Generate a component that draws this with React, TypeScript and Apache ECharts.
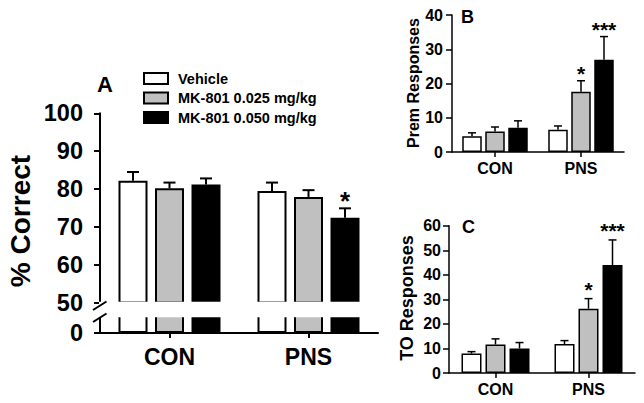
import React, { useEffect, useRef } from "react";
import * as echarts from "echarts";

const FONT = '"Liberation Sans", Arial, Helvetica, sans-serif';

const categories = ["CON", "PNS"];
const groupNames = ["Vehicle", "MK-801 0.025 mg/kg", "MK-801 0.050 mg/kg"];
const groupColors = ["#ffffff", "#c0c0c0", "#000000"];

// Panel A: % Correct
const correctVehicle = [82.2, 79.5];
const correctLow = [80.2, 77.9];
const correctHigh = [81.2, 72.4];
const correctVehicleSem = [2.3, 2.2];
const correctLowSem = [1.5, 1.8];
const correctHighSem = [1.6, 2.5];
const correctStars = [["", ""], ["", ""], ["", "*"]];

// Panel B: Prem Responses
const premVehicle = [4.6, 6.5];
const premLow = [6.0, 17.6];
const premHigh = [7.1, 26.9];
const premVehicleSem = [1.0, 1.1];
const premLowSem = [1.3, 3.2];
const premHighSem = [2.0, 6.8];
const premStars = [["", ""], ["", "*"], ["", "***"]];

// Panel C: TO Responses
const toVehicle = [7.9, 11.8];
const toLow = [11.6, 26.2];
const toHigh = [10.0, 44.0];
const toVehicleSem = [0.8, 1.4];
const toLowSem = [2.3, 4.1];
const toHighSem = [2.4, 10.2];
const toStars = [["", ""], ["", "*"], ["", "***"]];

function barSeries(name: string, data: number[], color: string, xi: number, yi: number, w: number, gapPx: number, lw: number) {
  return {
    type: "bar",
    name,
    data,
    xAxisIndex: xi,
    yAxisIndex: yi,
    barWidth: w,
    barGap: (gapPx / w) * 100 + "%",
    itemStyle: { color, borderColor: "#000", borderWidth: lw },
    emphasis: { disabled: true },
    silent: true,
    z: 2,
  };
}

function errSeries(
  xi: number,
  yi: number,
  means: number[][],
  sems: number[][],
  stars: string[][],
  w: number,
  gapPx: number,
  lw: number,
  capW: number,
  starSize: number,
  starLift: number
) {
  const data: number[][] = [];
  const starList: string[] = [];
  for (let s = 0; s < means.length; s++) {
    for (let c = 0; c < categories.length; c++) {
      data.push([c, means[s][c], means[s][c] + sems[s][c], s]);
      starList.push(stars[s][c]);
    }
  }
  return {
    type: "custom",
    xAxisIndex: xi,
    yAxisIndex: yi,
    data,
    z: 5,
    silent: true,
    clip: false,
    encode: { x: 0, y: 2 },
    renderItem: (params: any, api: any) => {
      const c = api.value(0);
      const m = api.value(1);
      const t = api.value(2);
      const s = api.value(3);
      const p0 = api.coord([c, m]);
      const p1 = api.coord([c, t]);
      const x = p0[0] + (s - 1) * (w + gapPx);
      const children: any[] = [
        { type: "line", shape: { x1: x, y1: p0[1], x2: x, y2: p1[1] }, style: { stroke: "#000", lineWidth: lw } },
        { type: "line", shape: { x1: x - capW / 2, y1: p1[1], x2: x + capW / 2, y2: p1[1] }, style: { stroke: "#000", lineWidth: lw } },
      ];
      const st = starList[params.dataIndex];
      if (st) {
        children.push({
          type: "text",
          x,
          y: p1[1] - starLift,
          style: { text: st, fill: "#000", font: `bold ${starSize}px ${FONT}`, align: "center", verticalAlign: "bottom" },
        });
      }
      return { type: "group", children };
    },
  };
}

function catAxis(gridIndex: number, show: boolean, fontSize: number, lw: number, margin: number) {
  return {
    type: "category",
    gridIndex,
    data: categories,
    show,
    axisLine: { show: true, onZero: false, lineStyle: { color: "#000", width: lw } },
    axisTick: { show: true, alignWithLabel: true, length: 5, lineStyle: { color: "#000", width: lw } },
    axisLabel: { color: "#000", fontFamily: FONT, fontWeight: "bold", fontSize, margin },
  };
}

function valAxis(gridIndex: number, min: number, max: number, interval: number, fontSize: number, lw: number, margin: number, extra: any = {}) {
  return {
    type: "value",
    gridIndex,
    min,
    max,
    interval,
    splitLine: { show: false },
    axisLine: { show: true, lineStyle: { color: "#000", width: lw } },
    axisTick: { show: true, length: 6, lineStyle: { color: "#000", width: lw }, ...(extra.tick || {}) },
    axisLabel: { color: "#000", fontFamily: FONT, fontWeight: "bold", fontSize, margin, ...(extra.label || {}) },
  };
}

export default function App() {
  const ref = useRef<HTMLDivElement>(null);
  useEffect(() => {
    if (!ref.current) return;
    const chart = echarts.init(ref.current, undefined, { renderer: "svg" });

    const aMeans = [correctVehicle, correctLow, correctHigh];
    const aSems = [correctVehicleSem, correctLowSem, correctHighSem];
    const bMeans = [premVehicle, premLow, premHigh];
    const bSems = [premVehicleSem, premLowSem, premHighSem];
    const cMeans = [toVehicle, toLow, toHigh];
    const cSems = [toVehicleSem, toLowSem, toHighSem];

    const series: any[] = [];
    // A upper (0) and lower (1)
    for (let s = 0; s < 3; s++) series.push(barSeries(groupNames[s], aMeans[s], groupColors[s], 0, 0, 29, 7.5, 2));
    for (let s = 0; s < 3; s++) series.push(barSeries(groupNames[s], aMeans[s], groupColors[s], 1, 1, 29, 7.5, 2));
    series.push(errSeries(0, 0, aMeans, aSems, correctStars, 29, 7.5, 2, 12, 26, -6));
    // B
    for (let s = 0; s < 3; s++) series.push(barSeries(groupNames[s], bMeans[s], groupColors[s], 2, 2, 19.5, 3.5, 1.5));
    series.push(errSeries(2, 2, bMeans, bSems, premStars, 19.5, 3.5, 1.5, 8, 21, -3));
    // C
    for (let s = 0; s < 3; s++) series.push(barSeries(groupNames[s], cMeans[s], groupColors[s], 3, 3, 20, 4, 1.5));
    series.push(errSeries(3, 3, cMeans, cSems, toStars, 20, 4, 1.5, 8, 21, -1));

    chart.setOption({
      animation: false,
      textStyle: { fontFamily: FONT },
      grid: [
        { left: 100, top: 113.3, width: 278, height: 189.3 },
        { left: 100, top: 316, width: 278, height: 17 },
        { left: 452, top: 15, width: 172, height: 137 },
        { left: 449, top: 225.7, width: 186, height: 147.3 },
      ],
      xAxis: [
        catAxis(0, false, 23, 2, 12),
        catAxis(1, true, 23, 2, 12),
        catAxis(2, true, 16, 1.5, 8),
        catAxis(3, true, 16, 1.5, 8),
      ],
      yAxis: [
        valAxis(0, 50, 100, 10, 23.5, 2, 17),
        valAxis(1, 0, 4.5, 10, 23.5, 2, 17, { tick: { customValues: [0] }, label: { customValues: [0] } }),
        valAxis(2, 0, 40, 10, 16, 1.5, 9),
        valAxis(3, 0, 60, 10, 16, 1.5, 8),
      ],
      legend: {
        left: 143,
        top: 71,
        padding: 0,
        orient: "vertical",
        itemWidth: 24,
        itemHeight: 11,
        itemGap: 4.5,
        data: groupNames,
        selectedMode: false,
        icon: "rect",
        textStyle: { color: "#000", fontFamily: FONT, fontWeight: "bold", fontSize: 14.5, padding: [0, 0, 0, 5] },
      },
      series,
      graphic: [
        { type: "rect", z: 100, shape: { x: 99, y: 301.8, width: 282, height: 15.4 }, style: { fill: "#fff" } },
        { type: "line", z: 101, shape: { x1: 93, y1: 310, x2: 106.5, y2: 301.5 }, style: { stroke: "#000", lineWidth: 2 } },
        { type: "line", z: 101, shape: { x1: 93, y1: 322, x2: 106.5, y2: 313.5 }, style: { stroke: "#000", lineWidth: 2 } },
        { type: "text", z: 101, left: 97, top: 73, style: { text: "A", font: `bold 22px ${FONT}`, fill: "#000" } },
        { type: "text", z: 101, left: 461, top: 8, style: { text: "B", font: `bold 18px ${FONT}`, fill: "#000" } },
        { type: "text", z: 101, left: 462, top: 218, style: { text: "C", font: `bold 18px ${FONT}`, fill: "#000" } },
        {
          type: "text", z: 101, x: 20, y: 221, rotation: Math.PI / 2,
          style: { text: "% Correct", font: `bold 28px ${FONT}`, fill: "#000", align: "center", verticalAlign: "middle" },
        },
        {
          type: "text", z: 101, x: 413, y: 83, rotation: Math.PI / 2,
          style: { text: "Prem Responses", font: `bold 16px ${FONT}`, fill: "#000", align: "center", verticalAlign: "middle" },
        },
        {
          type: "text", z: 101, x: 407, y: 298, rotation: Math.PI / 2,
          style: { text: "TO Responses", font: `bold 18px ${FONT}`, fill: "#000", align: "center", verticalAlign: "middle" },
        },
      ],
    });
    return () => chart.dispose();
  }, []);
  return <div ref={ref} style={{ position: "absolute", left: 0, top: 0, width: 644, height: 403, background: "#fff" }} />;
}
